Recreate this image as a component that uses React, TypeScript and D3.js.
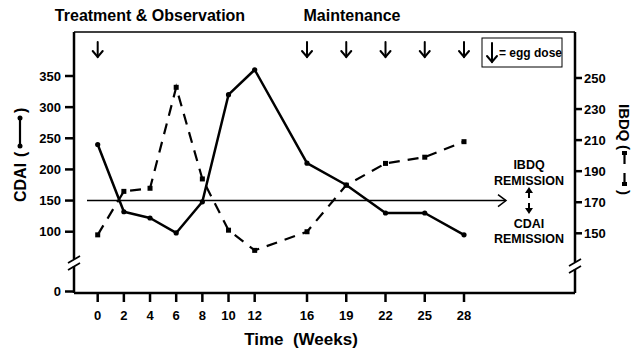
import React from "react";
import * as d3 from "d3";

const weeks = [0, 2, 4, 6, 8, 10, 12, 16, 19, 22, 25, 28];
const cdai = [240, 132, 122, 98, 148, 320, 360, 210, 175, 130, 130, 95];
const ibdq = [149, 177, 179, 244, 185, 152, 139, 151, 181, 195, 199, 209];
const doseWeeks = [0, 16, 19, 22, 25, 28];
const leftTicks = [100, 150, 200, 250, 300, 350];
const rightTicks = [150, 170, 190, 210, 230, 250];

const W = 632;
const H = 351;
const frame = { left: 74, right: 575, top: 32, bottom: 293 };
const font = "'Liberation Sans', Arial, Helvetica, sans-serif";

const x = d3.scaleLinear().domain([0, 28]).range([97.7, 464]);
const yLeft = d3.scaleLinear().domain([100, 350]).range([231.7, 76]);
const yRight = d3.scaleLinear().domain([150, 250]).range([233.3, 78]);

const cdaiPts = weeks.map((w, i) => [x(w), yLeft(cdai[i])] as [number, number]);
const ibdqPts = weeks.map((w, i) => [x(w), yRight(ibdq[i])] as [number, number]);
const line = d3.line();

function DownArrow({ cx, y0, y1 }: { cx: number; y0: number; y1: number }) {
  return (
    <g stroke="#000" strokeWidth={2} fill="none" strokeLinecap="round">
      <line x1={cx} x2={cx} y1={y0} y2={y1} />
      <polyline points={`${cx - 5},${y1 - 6} ${cx},${y1} ${cx + 5},${y1 - 6}`} />
    </g>
  );
}

export default function App() {
  const yLine = yLeft(150);
  return (
    <svg
      width={W}
      height={H}
      style={{ position: "absolute", left: 0, top: 0, background: "#fff" }}
      fontFamily={font}
      fontWeight="bold"
    >
      {/* titles */}
      <text x={150} y={21} fontSize={16} textAnchor="middle">Treatment &amp; Observation</text>
      <text x={352} y={21} fontSize={16} textAnchor="middle">Maintenance</text>

      {/* frame */}
      <line x1={frame.left} x2={frame.right} y1={frame.top} y2={frame.top} stroke="#000" strokeWidth={1.5} />
      <line x1={frame.left} x2={frame.right} y1={frame.bottom} y2={frame.bottom} stroke="#000" strokeWidth={2.5} />
      <line x1={frame.left} x2={frame.left} y1={frame.top} y2={259} stroke="#000" strokeWidth={2.5} />
      <line x1={frame.left} x2={frame.left} y1={266} y2={frame.bottom} stroke="#000" strokeWidth={2.5} />
      <line x1={frame.right} x2={frame.right} y1={frame.top} y2={262} stroke="#000" strokeWidth={2.5} />
      <line x1={frame.right} x2={frame.right} y1={269} y2={frame.bottom} stroke="#000" strokeWidth={2.5} />
      {/* axis breaks */}
      <g stroke="#000" strokeWidth={1.8}>
        <line x1={68} x2={80} y1={263} y2={256} />
        <line x1={68} x2={80} y1={270} y2={263} />
        <line x1={569} x2={581} y1={266} y2={259} />
        <line x1={569} x2={581} y1={273} y2={266} />
      </g>

      {/* left ticks */}
      {leftTicks.map(t => (
        <g key={t}>
          <line x1={frame.left - 9} x2={frame.left} y1={yLeft(t)} y2={yLeft(t)} stroke="#000" strokeWidth={2.5} />
          <text x={61} y={yLeft(t) + 4.5} fontSize={13} textAnchor="end">{t}</text>
        </g>
      ))}
      <line x1={frame.left - 9} x2={frame.left} y1={291.5} y2={291.5} stroke="#000" strokeWidth={2.5} />
      <text x={61} y={296} fontSize={13} textAnchor="end">0</text>

      {/* right ticks */}
      {rightTicks.map(t => (
        <g key={t}>
          <line x1={frame.right} x2={frame.right + 7} y1={yRight(t)} y2={yRight(t)} stroke="#000" strokeWidth={2.5} />
          <text x={584} y={yRight(t) + 4.5} fontSize={13}>{t}</text>
        </g>
      ))}

      {/* x ticks */}
      {weeks.map(w => (
        <g key={w}>
          <line x1={x(w)} x2={x(w)} y1={frame.bottom} y2={frame.bottom + 9} stroke="#000" strokeWidth={2.5} />
          <text x={x(w)} y={320} fontSize={13} textAnchor="middle">{w}</text>
        </g>
      ))}
      <text x={301} y={345} fontSize={17} textAnchor="middle" style={{ whiteSpace: "pre" }}>{"Time  (Weeks)"}</text>

      {/* y label left: rotated, text runs upward */}
      <g transform="translate(26,0) rotate(-90)">
        <text x={-202} y={0} fontSize={16}>CDAI</text>
        <text x={-157} y={0} fontSize={16}>(</text>
        <text x={-113} y={0} fontSize={16}>)</text>
        <line x1={-146} x2={-118} y1={-6} y2={-6} stroke="#000" strokeWidth={2.2} />
        <circle cx={-146} cy={-6} r={2.5} />
        <circle cx={-118} cy={-6} r={2.5} />
      </g>
      {/* y label right: rotated, text runs downward */}
      <g transform="translate(619,0) rotate(90)">
        <text x={104} y={0} fontSize={15}>IBDQ</text>
        <text x={145} y={0} fontSize={15}>(</text>
        <text x={190} y={0} fontSize={15}>)</text>
        <g stroke="#000" strokeWidth={2.2}>
          <line x1={152} x2={164} y1={-5.5} y2={-5.5} />
          <line x1={173} x2={185} y1={-5.5} y2={-5.5} />
        </g>
        <rect x={151} y={-8} width={4} height={5} />
        <rect x={182} y={-8} width={4} height={5} />
      </g>

      {/* egg dose arrows */}
      {doseWeeks.map(w => (
        <DownArrow key={w} cx={x(w)} y0={42} y1={57} />
      ))}
      <rect x={482} y={38} width={80} height={29} fill="none" stroke="#000" strokeWidth={1} />
      <DownArrow cx={492} y0={43} y1={62} />
      <text x={499} y={57} fontSize={12}>= egg dose</text>

      {/* remission line */}
      <g stroke="#000" strokeWidth={1.5} fill="none">
        <line x1={87} x2={506} y1={yLine} y2={yLine} />
        <polyline points={`${498},${yLine - 6} ${506},${yLine} ${498},${yLine + 6}`} />
      </g>
      <g fontSize={12.5} textAnchor="middle">
        <text x={529} y={169}>IBDQ</text>
        <text x={529} y={185}>REMISSION</text>
        <text x={529} y={228}>CDAI</text>
        <text x={529} y={243}>REMISSION</text>
      </g>
      <g>
        <line x1={529} x2={529} y1={192} y2={198} stroke="#000" strokeWidth={2} />
        <path d="M525,193 L529,187 L533,193 Z" />
        <line x1={529} x2={529} y1={203} y2={209} stroke="#000" strokeWidth={2} />
        <path d="M525,208 L529,214 L533,208 Z" />
      </g>

      {/* IBDQ dashed */}
      <path d={line(ibdqPts) ?? ""} fill="none" stroke="#000" strokeWidth={2.2} strokeDasharray="11,8" />
      {ibdqPts.map((p, i) => (
        <rect key={i} x={p[0] - 2.5} y={p[1] - 2.5} width={5} height={5} />
      ))}

      {/* CDAI solid */}
      <path d={line(cdaiPts) ?? ""} fill="none" stroke="#000" strokeWidth={2.5} strokeLinejoin="round" />
      {cdaiPts.map((p, i) => (
        <circle key={i} cx={p[0]} cy={p[1]} r={2.6} />
      ))}
    </svg>
  );
}
